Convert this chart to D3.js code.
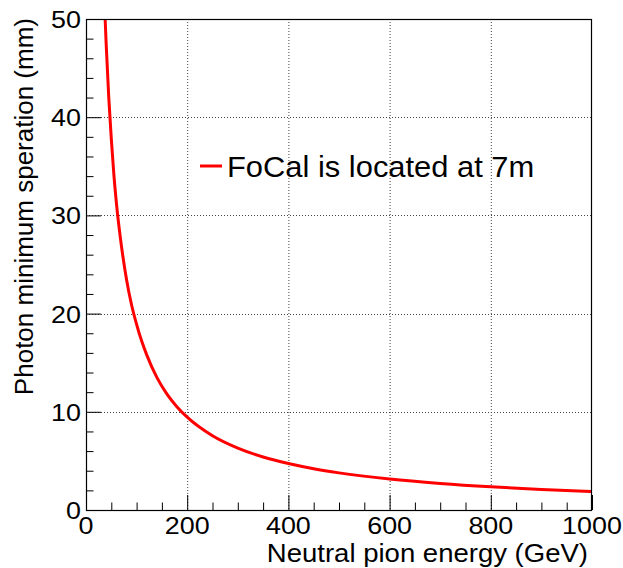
<!DOCTYPE html>
<html>
<head>
<meta charset="utf-8">
<script src="https://cdn.jsdelivr.net/npm/d3@7"></script>
<style>
html,body{margin:0;padding:0;background:#fff;}
svg{display:block;font-family:"Liberation Sans",Arial,Helvetica,sans-serif;}
</style>
</head>
<body>
<svg id="chart" width="623" height="568"></svg>
<script>
// Data
const energy = [34, 36, 38, 40, 45, 50, 55, 60, 70, 80, 90, 100, 110, 120, 140, 160, 180, 200, 250, 300, 350, 400, 450, 500, 600, 700, 800, 900, 1000];
const separation = [55, 52.5, 49.8, 47.3, 42, 37.8, 34.2, 31.3, 26.9, 23.5, 20.9, 18.9, 17.2, 15.8, 13.5, 11.8, 10.5, 9.45, 7.56, 6.3, 5.4, 4.73, 4.2, 3.78, 3.15, 2.7, 2.36, 2.1, 1.89];
const xTicks = [0, 200, 400, 600, 800, 1000];
const yTicks = [0, 10, 20, 30, 40, 50];
const xMinorTicks = d3.range(0, 1001, 50);
const yMinorTicks = d3.range(0, 51, 2);
const seriesLabel = "FoCal is located at 7m";
const xTitle = "Neutral pion energy (GeV)";
const yTitle = "Photon minimum speration (mm)";

const svg = d3.select("#chart");
const L = 86, R = 592, T = 19, B = 510;
const x = d3.scaleLinear().domain([0, 1000]).range([L, R]);
const y = d3.scaleLinear().domain([0, 50]).range([B, T]);

// grid
const grid = svg.append("g").attr("stroke", "#444").attr("stroke-width", 1).attr("stroke-dasharray", "1,2");
xTicks.filter(d => d > 0 && d < 1000).forEach(d => {
  grid.append("line").attr("x1", x(d) + 0.5).attr("x2", x(d) + 0.5).attr("y1", T).attr("y2", B);
});
yTicks.filter(d => d > 0 && d < 50).forEach(d => {
  grid.append("line").attr("x1", L).attr("x2", R).attr("y1", Math.round(y(d)) + 0.5).attr("y2", Math.round(y(d)) + 0.5);
});

// curve
svg.append("clipPath").attr("id", "clip").append("rect")
  .attr("x", L).attr("y", T).attr("width", R - L).attr("height", B - T);
const line = d3.line().x((d, i) => x(energy[i])).y(d => y(d)).curve(d3.curveMonotoneX);
svg.append("path").datum(separation)
  .attr("clip-path", "url(#clip)")
  .attr("d", line).attr("fill", "none").attr("stroke", "#ff0000").attr("stroke-width", 3);

// axes with ticks inside
const xAxis = d3.axisBottom(x).tickValues(xTicks).tickSize(-15).tickFormat("");
const gx = svg.append("g").attr("transform", `translate(0,${B})`).call(xAxis);
gx.select(".domain").remove();
const xMinor = d3.axisBottom(x).tickValues(xMinorTicks.filter(d => d % 200 !== 0)).tickSize(-7.5).tickFormat("");
const gxm = svg.append("g").attr("transform", `translate(0,${B})`).call(xMinor);
gxm.select(".domain").remove();

const yAxis = d3.axisLeft(y).tickValues(yTicks).tickSize(-15).tickFormat("");
const gy = svg.append("g").attr("transform", `translate(${L},0)`).call(yAxis);
gy.select(".domain").remove();
const yMinor = d3.axisLeft(y).tickValues(yMinorTicks.filter(d => d % 10 !== 0)).tickSize(-7.5).tickFormat("");
const gym = svg.append("g").attr("transform", `translate(${L},0)`).call(yMinor);
gym.select(".domain").remove();

// frame
svg.append("rect").attr("x", L + 0.5).attr("y", T + 0.5).attr("width", R - L - 1).attr("height", B - T)
  .attr("fill", "none").attr("stroke", "#000").attr("stroke-width", 1.2);

// helper for slightly wide text
function wideText(g, px, py, sx, size, anchor, str) {
  return g.append("text").attr("transform", `translate(${px},${py}) scale(${sx},1)`)
    .attr("text-anchor", anchor).attr("font-size", size).attr("fill", "#000").text(str);
}

// tick labels
const tl = svg.append("g");
xTicks.forEach(d => wideText(tl, x(d), 533.5, 1.12, 24, "middle", d));
yTicks.forEach(d => wideText(tl, 81, y(d) + 9, 1.12, 24, "end", d));

// axis titles
wideText(svg, 588, 562, 1.08, 25.5, "end", xTitle);
svg.append("text").attr("transform", "translate(33,18) rotate(-90)").attr("text-anchor", "end")
  .attr("font-size", 26).attr("fill", "#000").text(yTitle);

// legend
svg.append("line").attr("x1", 200).attr("x2", 222).attr("y1", 166).attr("y2", 166)
  .attr("stroke", "#ff0000").attr("stroke-width", 3);
wideText(svg, 227, 177, 1.03, 30, "start", seriesLabel);
</script>
</body>
</html>
